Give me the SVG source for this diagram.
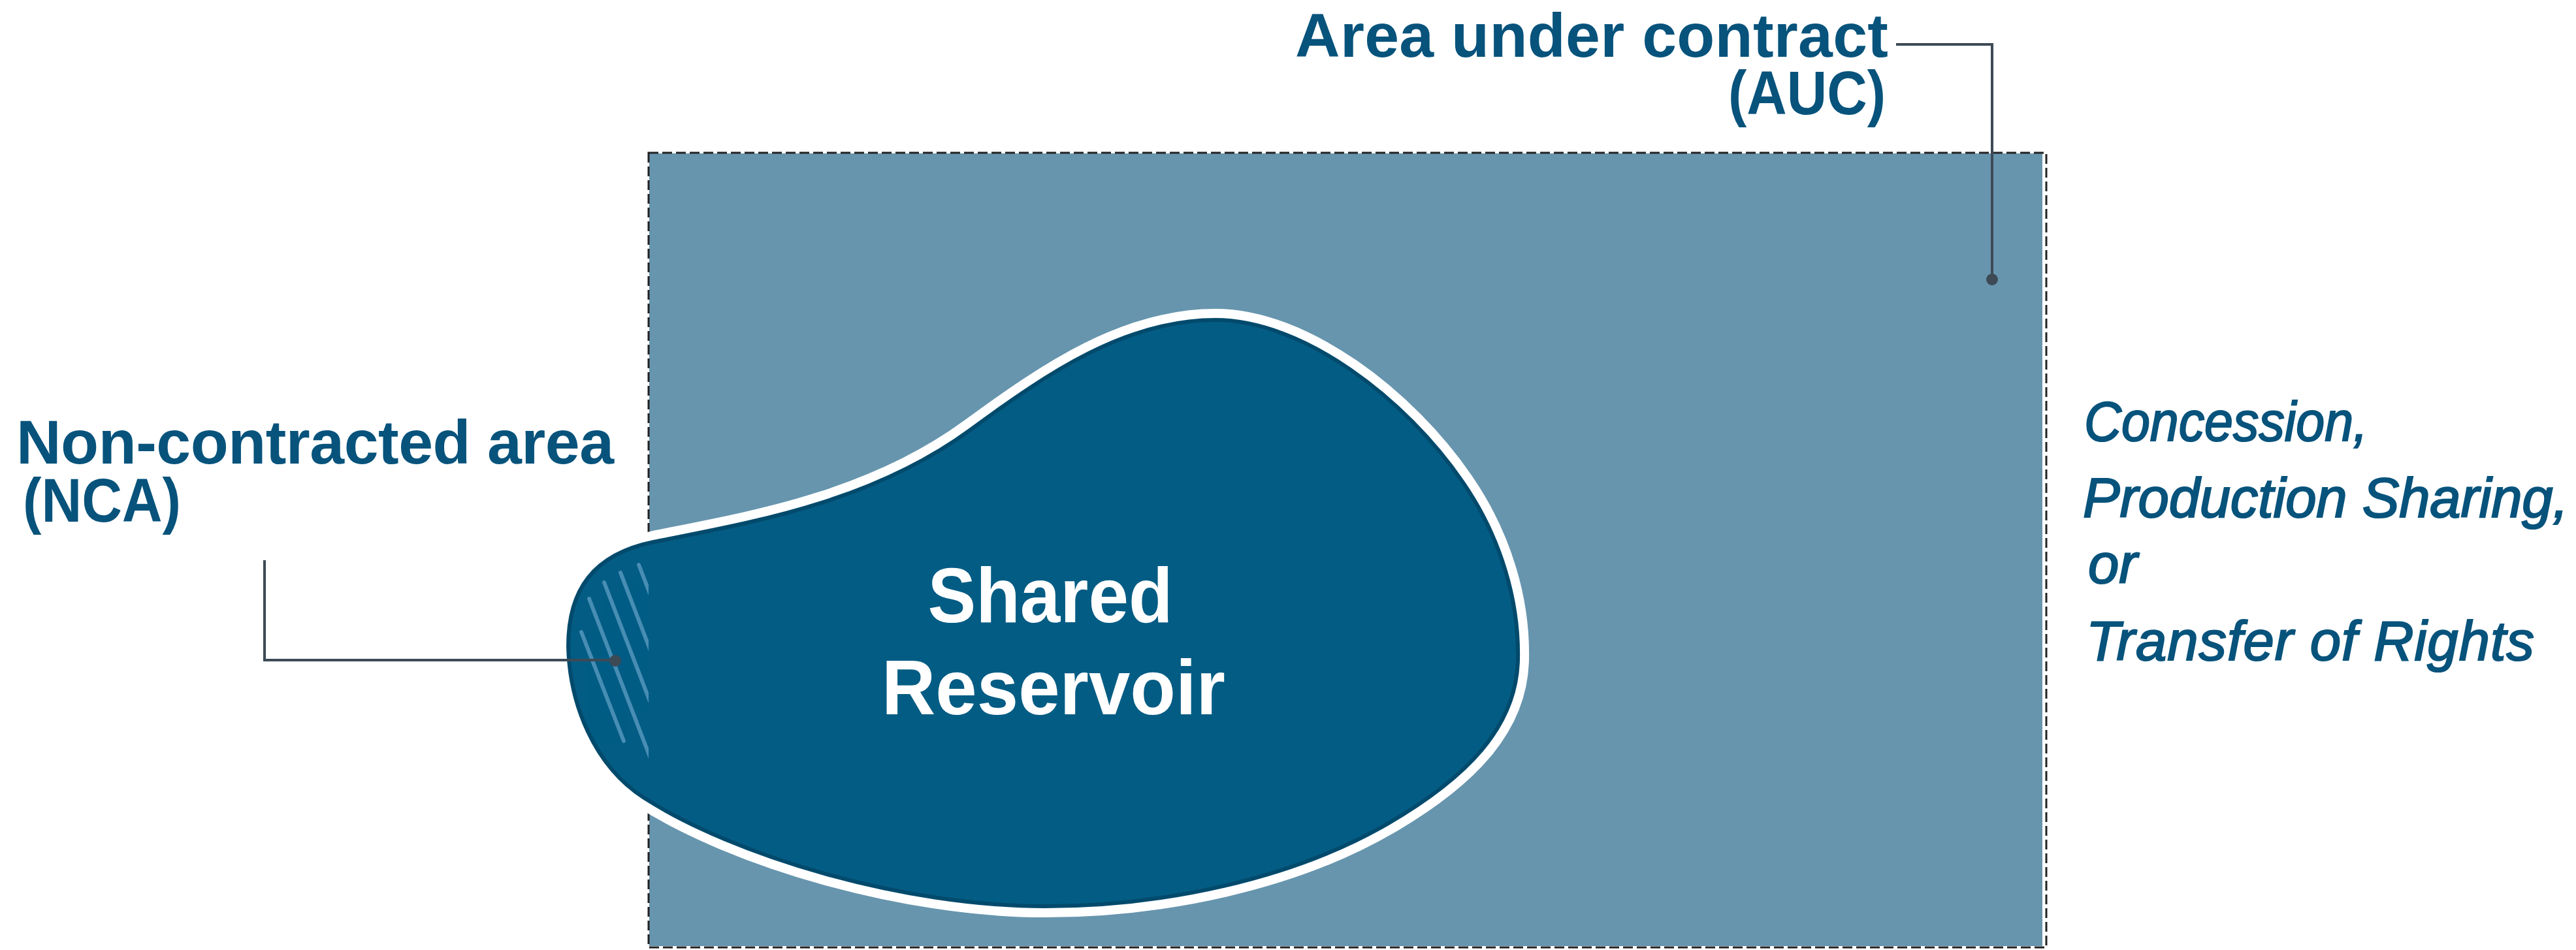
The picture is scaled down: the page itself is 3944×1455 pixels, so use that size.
<svg xmlns="http://www.w3.org/2000/svg" xmlns:xlink="http://www.w3.org/1999/xlink" width="3944" height="1455" viewBox="0 0 3944 1455">
  <style>
    .lbl { font-family: "Liberation Sans", Arial, sans-serif; font-weight: bold; font-size: 95px; fill: #07537c; }
    .ital { font-family: "Liberation Sans", Arial, sans-serif; font-style: italic; font-size: 85px; fill: #07537c; stroke: #07537c; stroke-width: 2.2; }
    .res { font-family: "Liberation Sans", Arial, sans-serif; font-weight: bold; font-size: 118px; fill: #ffffff; text-anchor: middle; }
    .leader { fill: none; stroke: #3d4a56; stroke-width: 4; }
    .dot { fill: #3d4a56; }
    .hatch { stroke: #5596bd; stroke-width: 6; stroke-linecap: round; opacity: 0.85; }
  </style>
  <defs>
    <path id="blob" d="M 860 990 C 860 900, 900 840, 1000 820 C 1150 790, 1330 760, 1480 650 C 1600 562, 1720 480, 1861 480 C 2000 480, 2160 604, 2248 733 C 2308 820, 2336 920, 2334 1010 C 2332 1120, 2250 1200, 2130 1270 C 1980 1357, 1780 1398, 1600 1398 C 1380 1398, 1120 1320, 980 1230 C 900 1178, 862 1080, 860 990 Z"/>
    <clipPath id="blobClip"><use xlink:href="#blob"/></clipPath>
    <clipPath id="ncaClip"><rect x="0" y="0" width="993" height="1455"/></clipPath>
  </defs>

  <rect width="3944" height="1455" fill="#ffffff"/>

  <g id="auc-area">
    <rect x="994" y="235" width="2133" height="1214" fill="#6795ae"/>
    <rect x="993" y="234" width="2140" height="1217" fill="none" stroke="#222222" stroke-width="3" stroke-dasharray="15 6"/>
  </g>

  <g id="shared-reservoir">
    <use xlink:href="#blob" fill="#035c84"/>
    <g clip-path="url(#blobClip)">
      <use xlink:href="#blob" fill="none" stroke="#024a6c" stroke-width="26"/>
    </g>
    <use xlink:href="#blob" fill="none" stroke="#ffffff" stroke-width="14"/>
    <text class="res" x="1608" y="953" textLength="375" lengthAdjust="spacingAndGlyphs">Shared</text>
    <text class="res" x="1613" y="1094" textLength="526" lengthAdjust="spacingAndGlyphs">Reservoir</text>
  </g>

  <g id="nca-hatch" clip-path="url(#ncaClip)">
    <g clip-path="url(#blobClip)">
      <line class="hatch" x1="890" y1="968" x2="955" y2="1135"/>
      <line class="hatch" x1="902" y1="917" x2="1000" y2="1172"/>
      <line class="hatch" x1="925" y1="892" x2="1000" y2="1087"/>
      <line class="hatch" x1="950" y1="877" x2="1000" y2="1007"/>
      <line class="hatch" x1="978" y1="865" x2="1000" y2="922"/>
    </g>
  </g>

  <g id="label-auc">
    <text class="lbl" x="1983" y="87" textLength="908">Area under contract</text>
    <text class="lbl" x="2646" y="175" textLength="241" lengthAdjust="spacingAndGlyphs">(AUC)</text>
  </g>

  <g id="label-nca">
    <text class="lbl" x="25" y="710" textLength="915">Non-contracted area</text>
    <text class="lbl" x="35" y="799" textLength="242" lengthAdjust="spacingAndGlyphs">(NCA)</text>
  </g>

  <g id="label-contract-types">
    <text class="ital" x="3191" y="675" textLength="434" lengthAdjust="spacingAndGlyphs">Concession,</text>
    <text class="ital" x="3189" y="792" textLength="743">Production Sharing,</text>
    <text class="ital" x="3197" y="893">or</text>
    <text class="ital" x="3194" y="1011" textLength="686">Transfer of Rights</text>
  </g>

  <g id="connectors">
    <path class="leader" d="M 2903 68 H 3050 V 428"/>
    <circle class="dot" cx="3050" cy="428" r="9"/>
    <path class="leader" d="M 405 858 V 1011 H 942"/>
    <circle class="dot" cx="942" cy="1012" r="9"/>
  </g>
</svg>
